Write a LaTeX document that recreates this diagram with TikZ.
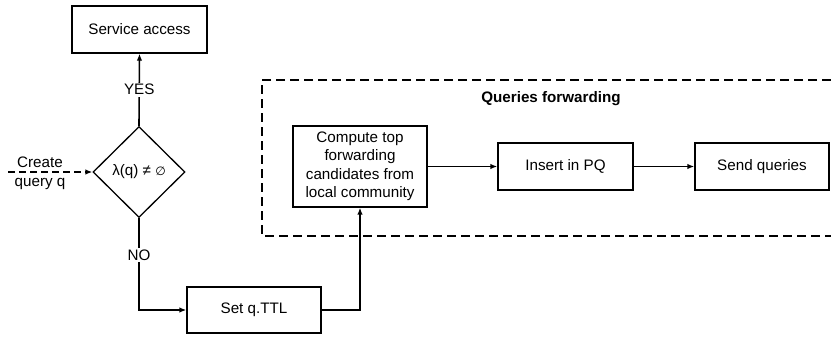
\documentclass[tikz,border=0pt]{standalone}
\usepackage{fontspec}
\setmainfont{Liberation Sans}
\newfontfamily\symfont{DejaVu Sans}
\usetikzlibrary{shapes.geometric,arrows.meta}
\begin{document}
\begin{tikzpicture}[x=1pt,y=-1pt,
  every node/.style={font=\fontsize{15.2}{18.5}\selectfont},
  box/.style={draw,line width=1.3pt,rectangle,inner sep=0pt,align=center},
  lbl/.style={fill=white,inner sep=1.5pt}]
\fill[white] (0,0) rectangle (831,338);
\useasboundingbox (0,0) rectangle (831,338);
% dashed frame
\draw[line width=1.3pt,dash pattern=on 9pt off 5pt] (831,80) -- (262,80) -- (262,236) -- (831,236);
\node[font=\fontsize{15.2}{18.5}\selectfont\bfseries] (title) at (551,99) {Queries forwarding};
% nodes
\node[box,minimum width=135pt,minimum height=47pt] (sa) at (139.5,29.5) {Service access};
\node[draw,line width=1.3pt,diamond,minimum width=92pt,minimum height=91pt,inner sep=0pt] (dia) at (139,172) {λ(q) ≠ {\symfont\fontsize{12}{14}\selectfont ∅}};
\node[anchor=base,inner sep=0pt] (create1) at (40,167) {Create};
\node[anchor=base,inner sep=0pt] (create2) at (40,186) {query q};
\coordinate (start) at (8,172);
\node[box,minimum width=134pt,minimum height=46pt] (set) at (254,310) {Set q.TTL};
\node[box,minimum width=134pt,minimum height=81pt] (comp) at (360,166.5) {Compute top\\forwarding\\candidates from\\local community};
\node[box,minimum width=135pt,minimum height=47pt] (ins) at (565.5,166.5) {Insert in PQ};
\node[box,minimum width=134pt,minimum height=47pt] (send) at (762,166.5) {Send queries};
% connectors
\begin{scope}[line width=1.6pt,-{Latex[length=7pt,width=5.5pt]}]
\draw[dash pattern=on 7pt off 4pt] (start) -- (dia.west);
\draw (dia.north) -- node[lbl] (yes) {YES} (sa.south);
\draw (dia.south) |- node[lbl,pos=0.2] (no) {NO} (set.west);
\draw (set.east) -| (comp.south);
\draw (comp.east) -- (ins.west);
\draw (ins.east) -- (send.west);
\end{scope}
\end{tikzpicture}
\end{document}
